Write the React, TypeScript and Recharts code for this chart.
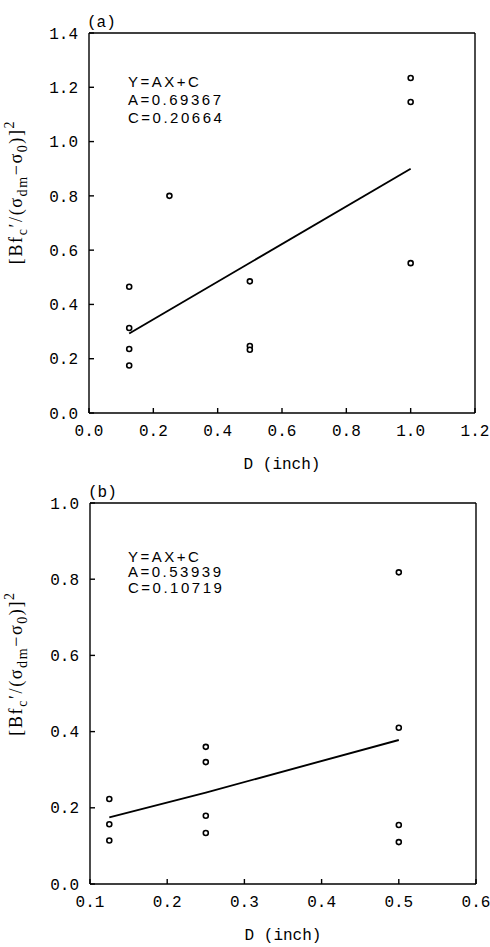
import React from 'react';
import { ScatterChart, Scatter, XAxis, YAxis, Label, Customized } from 'recharts';

// panel (a)
const aPointsX = [0.125, 0.125, 0.125, 0.125, 0.25, 0.5, 0.5, 0.5, 1.0, 1.0, 1.0];
const aPointsY = [0.465, 0.313, 0.236, 0.175, 0.8, 0.485, 0.247, 0.233, 1.234, 1.146, 0.552];
const aFitX = [0.125, 1.0];
const aFitY = [0.293, 0.9];
const aXTicks = [0, 0.2, 0.4, 0.6, 0.8, 1.0, 1.2];
const aYTicks = [0, 0.2, 0.4, 0.6, 0.8, 1.0, 1.2, 1.4];
const aText = ['Y=AX+C', 'A=0.69367', 'C=0.20664'];

// panel (b)
const bPointsX = [0.125, 0.125, 0.125, 0.25, 0.25, 0.25, 0.25, 0.5, 0.5, 0.5, 0.5];
const bPointsY = [0.223, 0.157, 0.114, 0.36, 0.32, 0.179, 0.134, 0.818, 0.41, 0.155, 0.11];
const bFitX = [0.125, 0.25, 0.5];
const bFitY = [0.175, 0.24, 0.378];
const bXTicks = [0.1, 0.2, 0.3, 0.4, 0.5, 0.6];
const bYTicks = [0, 0.2, 0.4, 0.6, 0.8, 1.0];
const bText = ['Y=AX+C', 'A=0.53939', 'C=0.10719'];

const MONO = '"Liberation Mono", monospace';
const SERIF = '"Liberation Serif", serif';
const SANS = '"Liberation Sans", Arial, sans-serif';

const zip = (xs: number[], ys: number[]) => xs.map((x, i) => ({ x, y: ys[i] }));

const Dot = (props: any) => {
  const { cx, cy } = props;
  if (cx == null || cy == null) return null;
  return <circle cx={cx} cy={cy} r={2.5} fill="#fff" stroke="#000" strokeWidth={1.6} />;
};

const YTitle = ({ viewBox, shift }: any) => {
  const x = 22;
  const y = viewBox.y + viewBox.height / 2 + shift;
  return (
    <text
      transform={`translate(${x},${y}) rotate(-90)`}
      textAnchor="middle"
      fontFamily={SERIF}
      fontSize={18}
      letterSpacing={1.6}
      fill="#000"
    >
      <tspan>[Bf</tspan>
      <tspan fontSize={14} dy={5}>c</tspan>
      <tspan dy={-5}>′/(σ</tspan>
      <tspan fontSize={14} dy={5}>dm</tspan>
      <tspan dy={-5}>−σ</tspan>
      <tspan fontSize={14} dy={5}>0</tspan>
      <tspan dy={-5}>)]</tspan>
      <tspan fontSize={14} dy={-8}>2</tspan>
    </text>
  );
};

const XTitle = ({ viewBox }: any) => (
  <text
    x={viewBox.x + viewBox.width / 2}
    y={viewBox.y + 52}
    textAnchor="middle"
    dominantBaseline="central"
    fontFamily={MONO}
    fontSize={16}
    fill="#000"
  >
    D (inch)
  </text>
);

type PanelProps = {
  tag: string;
  points: { x: number; y: number }[];
  fit: { x: number; y: number }[];
  xDomain: [number, number];
  yDomain: [number, number];
  xTicks: number[];
  yTicks: number[];
  lines: string[];
  lineGap: number;
  textTop: number;
  height: number;
  margin: { top: number; right: number; bottom: number; left: number };
  xHeight: number;
  titleShift: number;
};

function Panel(p: PanelProps) {
  const tickStyle = { fontFamily: MONO, fontSize: 16, fill: '#000' };
  const fmt = (v: number) => v.toFixed(1);
  const plotLeft = p.margin.left + 60;
  const plotTop = p.margin.top + 1;
  return (
    <ScatterChart width={490} height={p.height} margin={p.margin}>
      <XAxis
        xAxisId="b"
        type="number"
        dataKey="x"
        domain={p.xDomain}
        ticks={p.xTicks}
        tickFormatter={fmt}
        allowDataOverflow
        height={p.xHeight}
        stroke="#000"
        strokeWidth={1.4}
        tickSize={-5}
        tickMargin={17}
        tick={tickStyle}
      >
        <Label content={<XTitle />} />
      </XAxis>
      <XAxis
        xAxisId="t"
        orientation="top"
        type="number"
        dataKey="x"
        domain={p.xDomain}
        ticks={p.xTicks}
        allowDataOverflow
        height={1}
        stroke="#000"
        strokeWidth={1.4}
        tickSize={-5}
        tick={false}
      />
      <YAxis
        yAxisId="l"
        type="number"
        dataKey="y"
        domain={p.yDomain}
        ticks={p.yTicks}
        tickFormatter={fmt}
        allowDataOverflow
        width={60}
        stroke="#000"
        strokeWidth={1.4}
        tickSize={-5}
        tickMargin={16}
        tick={tickStyle}
      >
        <Label content={<YTitle shift={p.titleShift} />} />
      </YAxis>
      <YAxis
        yAxisId="r"
        orientation="right"
        type="number"
        dataKey="y"
        domain={p.yDomain}
        ticks={p.yTicks}
        allowDataOverflow
        width={1}
        stroke="#000"
        strokeWidth={1.4}
        tickSize={-5}
        tick={false}
      />
      {/* invisible series so the mirrored frame axes get drawn */}
      <Scatter
        xAxisId="t"
        yAxisId="r"
        data={p.fit}
        shape={() => null}
        isAnimationActive={false}
      />
      <Scatter
        xAxisId="b"
        yAxisId="l"
        data={p.fit}
        line={{ stroke: '#000', strokeWidth: 1.9 }}
        shape={() => null}
        isAnimationActive={false}
      />
      <Scatter
        xAxisId="b"
        yAxisId="l"
        data={p.points}
        shape={<Dot />}
        isAnimationActive={false}
      />
      <Customized
        component={() => (
          <g>
            <text x={plotLeft - 2} y={plotTop - 6} fontFamily={MONO} fontSize={16} fill="#000">
              {p.tag}
            </text>
            {p.lines.map((s, i) => (
              <text
                key={i}
                x={128}
                y={plotTop + p.textTop + i * p.lineGap}
                dominantBaseline="central"
                fontFamily={SANS}
                fontSize={15}
                letterSpacing={2.5}
                fill="#000"
              >
                {s}
              </text>
            ))}
          </g>
        )}
      />
    </ScatterChart>
  );
}

export default function App() {
  return (
    <div style={{ position: 'absolute', left: 0, top: 0, width: 490, height: 947, background: '#fff' }}>
      <div style={{ position: 'absolute', left: 0, top: 0 }}>
        <Panel
          tag="(a)"
          points={zip(aPointsX, aPointsY)}
          fit={zip(aFitX, aFitY)}
          xDomain={[0, 1.2]}
          yDomain={[0, 1.4]}
          xTicks={aXTicks}
          yTicks={aYTicks}
          lines={aText}
          lineGap={18}
          textTop={48}
          height={480}
          margin={{ top: 32, right: 14, bottom: 0, left: 29 }}
          xHeight={67}
          titleShift={-31}
        />
      </div>
      <div style={{ position: 'absolute', left: 0, top: 470 }}>
        <Panel
          tag="(b)"
          points={zip(bPointsX, bPointsY)}
          fit={zip(bFitX, bFitY)}
          xDomain={[0.1, 0.6]}
          yDomain={[0, 1.0]}
          xTicks={bXTicks}
          yTicks={bYTicks}
          lines={bText}
          lineGap={15.5}
          textTop={53}
          height={477}
          margin={{ top: 32, right: 13, bottom: 0, left: 30 }}
          xHeight={63}
          titleShift={-30}
        />
      </div>
    </div>
  );
}
